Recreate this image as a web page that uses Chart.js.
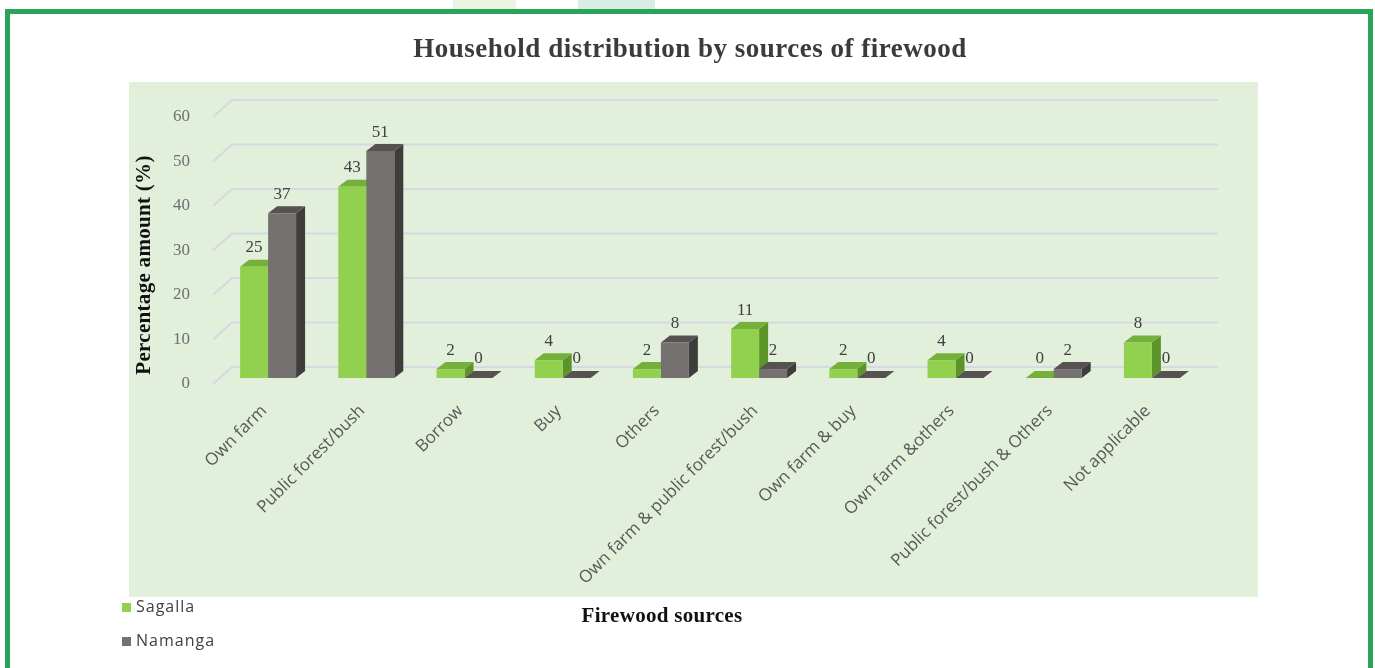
<!DOCTYPE html>
<html>
<head>
<meta charset="utf-8">
<title>Household distribution by sources of firewood</title>
<script src="https://cdn.jsdelivr.net/npm/chart.js@4"></script>
<style>
  body { margin: 0; background: #fff; }
  #wrap { position: relative; width: 1375px; height: 668px; overflow: hidden; }
  #myChart { position: absolute; left: 0; top: 0; }
  .marco { position: absolute; left: 5px; top: 9px; width: 1368px; height: 720px; border: 5px solid #2ba45b; box-sizing: border-box; pointer-events: none; }
  .pestana { position: absolute; top: 0; height: 9px; }
</style>
</head>
<body>
<div id="wrap">
  <div class="pestana" style="left:453px;width:63px;background:#eaf4e1"></div>
  <div class="pestana" style="left:578px;width:77px;background:#d8ede4"></div>
  <canvas id="myChart" width="1375" height="668"></canvas>
  <div class="marco"></div>
</div>
<script>
const fuentes = [
  "Own farm",
  "Public forest/bush",
  "Borrow",
  "Buy",
  "Others",
  "Own farm & public forest/bush",
  "Own farm & buy",
  "Own farm &others",
  "Public forest/bush & Others",
  "Not applicable",
];
const sagalla = [25, 43, 2, 4, 2, 11, 2, 4, 0, 8];
const namanga = [37, 51, 0, 0, 8, 2, 0, 0, 2, 0];
const marcasY = [0, 10, 20, 30, 40, 50, 60];

// colores: frente, tapa y lado de cada barra
const colorFrente = ["#92d050", "#767171"];
const colorTapa = ["#74b03a", "#565252"];
const colorLado = ["#5c9429", "#3f3c3c"];

const PROF_X = 9;
const PROF_Y = -7;

const fondo = {
  id: "fondo",
  beforeDraw(chart) {
    const ctx = chart.ctx;
    ctx.save();
    ctx.fillStyle = "#e2efda";
    ctx.fillRect(129, 82, 1129, 515);
    ctx.restore();
  },
  beforeDatasetsDraw(chart) {
    const ctx = chart.ctx;
    const escalaY = chart.scales.y;
    const area = chart.chartArea;
    ctx.save();
    // lineas de la pared del fondo
    ctx.strokeStyle = "#d6d9e2";
    ctx.lineWidth = 2;
    marcasY.forEach((v) => {
      const yf = escalaY.getPixelForValue(v);
      ctx.beginPath();
      ctx.moveTo(area.left - 6, yf + 6);
      ctx.lineTo(area.left + 13, yf - 11);
      ctx.lineTo(1218, yf - 11);
      ctx.stroke();
    });
    // tapa y lado de las barras
    chart.data.datasets.forEach((ds, i) => {
      chart.getDatasetMeta(i).data.forEach((bar) => {
        const { x, y, base, width } = bar.getProps(["x", "y", "base", "width"], true);
        const izq = x - width / 2;
        const der = x + width / 2;
        ctx.fillStyle = colorLado[i];
        ctx.beginPath();
        ctx.moveTo(der, y);
        ctx.lineTo(der + PROF_X, y + PROF_Y);
        ctx.lineTo(der + PROF_X, base + PROF_Y);
        ctx.lineTo(der, base);
        ctx.closePath();
        ctx.fill();
        ctx.fillStyle = colorTapa[i];
        ctx.beginPath();
        ctx.moveTo(izq, y);
        ctx.lineTo(izq + PROF_X, y + PROF_Y);
        ctx.lineTo(der + PROF_X, y + PROF_Y);
        ctx.lineTo(der, y);
        ctx.closePath();
        ctx.fill();
      });
    });
    ctx.restore();
  },
  afterDatasetsDraw(chart) {
    const ctx = chart.ctx;
    ctx.save();
    ctx.font = "17px 'Liberation Serif'";
    ctx.fillStyle = "#404040";
    ctx.textAlign = "center";
    ctx.textBaseline = "middle";
    chart.data.datasets.forEach((ds, i) => {
      chart.getDatasetMeta(i).data.forEach((bar, j) => {
        const { x, y } = bar.getProps(["x", "y"], true);
        ctx.fillText(String(ds.data[j]), x, y - 19);
      });
    });
    ctx.restore();
  },
  afterDraw(chart) {
    const ctx = chart.ctx;
    ctx.save();
    // titulo
    ctx.fillStyle = "#3b3b3b";
    ctx.font = "bold 27px 'Liberation Serif'";
    ctx.letterSpacing = "0.5px";
    ctx.textAlign = "center";
    ctx.textBaseline = "middle";
    ctx.fillText("Household distribution by sources of firewood", 690, 50);
    // titulos de ejes
    ctx.fillStyle = "#111111";
    ctx.font = "bold 21px 'Liberation Serif'";
    ctx.letterSpacing = "0.3px";
    ctx.fillText("Firewood sources", 662, 617);
    ctx.save();
    ctx.translate(145, 265);
    ctx.rotate(-Math.PI / 2);
    ctx.fillText("Percentage amount (%)", 0, 0);
    ctx.restore();
    // leyenda
    ctx.font = "16px 'Open Sans'";
    ctx.letterSpacing = "1px";
    ctx.textAlign = "left";
    chart.data.datasets.forEach((ds, i) => {
      const yl = 607 + i * 34;
      ctx.fillStyle = colorFrente[i];
      ctx.fillRect(122, yl - 4, 9, 9);
      ctx.fillStyle = "#404040";
      ctx.fillText(ds.label, 136, yl);
    });
    ctx.restore();
  },
};

function dibujarGrafica() {
  const ctx = document.getElementById("myChart").getContext("2d");
  new Chart(ctx, {
    type: "bar",
    data: {
      labels: fuentes,
      datasets: [
        { label: "Sagalla", data: sagalla, backgroundColor: colorFrente[0] },
        { label: "Namanga", data: namanga, backgroundColor: colorFrente[1] },
      ],
    },
    options: {
      responsive: false,
      devicePixelRatio: 1,
      animation: false,
      categoryPercentage: 0.57,
      barPercentage: 1,
      layout: { padding: { left: 0, top: 111, right: 174, bottom: 0 } },
      plugins: {
        legend: { display: false },
        tooltip: { enabled: false },
      },
      scales: {
        x: {
          afterFit: (s) => { s.height = 290; },
          grid: { display: false, drawTicks: false },
          border: { display: false },
          ticks: {
            autoSkip: false,
            minRotation: 45,
            maxRotation: 45,
            padding: 23,
            labelOffset: -4,
            color: "#595959",
            font: { family: "'Open Sans'", size: 17 },
          },
        },
        y: {
          min: 0,
          max: 60,
          afterFit: (s) => { s.width = 219; },
          grid: { display: false, drawTicks: false },
          border: { display: false },
          ticks: {
            stepSize: 10,
            padding: 29,
            labelOffset: 6,
            color: "#6f6f6f",
            font: { family: "'Liberation Serif'", size: 17 },
          },
        },
      },
    },
    plugins: [fondo],
  });
}

dibujarGrafica();
</script>
</body>
</html>
